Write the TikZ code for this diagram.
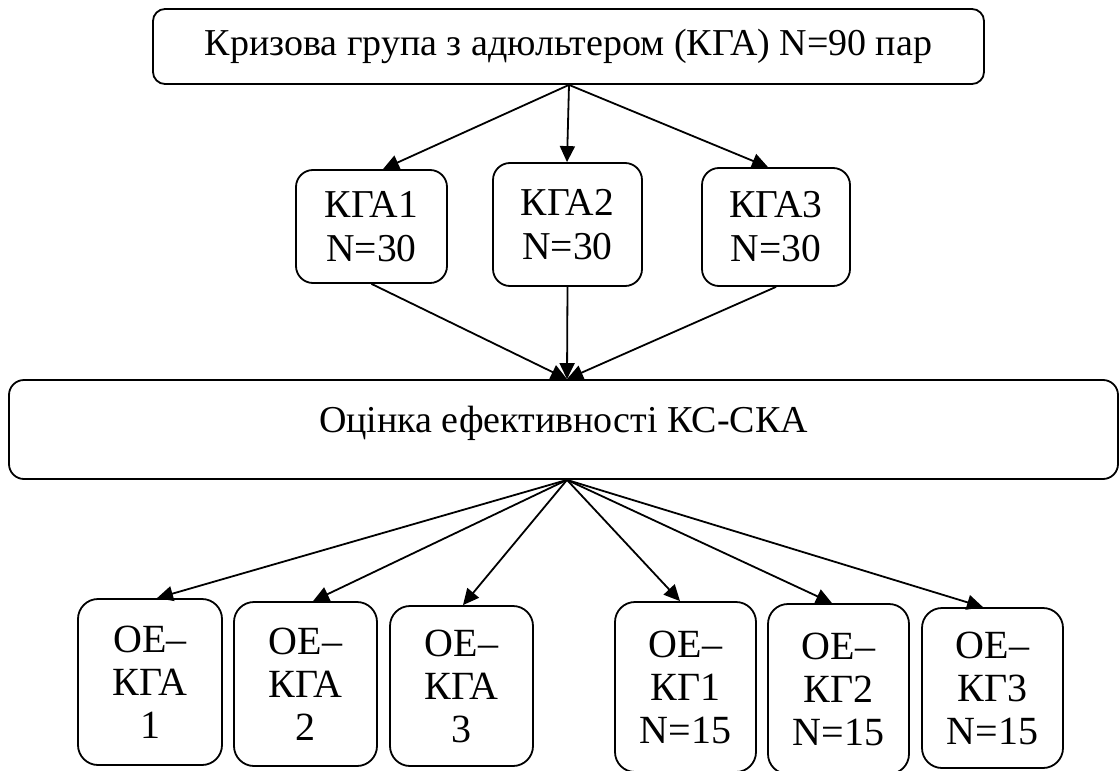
\documentclass[tikz,border=0pt]{standalone}
\usepackage{fontspec}
\setmainfont{Liberation Serif}
\usetikzlibrary{arrows.meta,calc}
\begin{document}
\begin{tikzpicture}[x=1pt,y=-1pt,
  box/.style={draw, line width=1.8pt, align=center, inner sep=0pt},
  midbox/.style={box, rounded corners=17pt, font=\fontsize{39.5}{44}\selectfont},
  lowbox/.style={box, rounded corners=20pt, font=\fontsize{40}{43}\selectfont},
  arr/.style={line width=1.8pt, -{Triangle[length=16pt,width=15pt]}}]
\useasboundingbox (0,0) rectangle (1120,771);
% top
\node[box, rounded corners=12pt, minimum width=831pt, minimum height=75pt,
      font=\fontsize{38}{44}\selectfont] (top) at (568.5,46.5)
      {Кризова група з адюльтером (КГА) N=90 пар};
% middle row
\node[midbox, minimum width=151pt, minimum height=113pt] (k1) at (371.5,226.5) {КГА1\\N=30};
\node[midbox, minimum width=149pt, minimum height=123pt] (k2) at (567.5,224.5) {КГА2\\N=30};
\node[midbox, minimum width=148pt, minimum height=118pt] (k3) at (776,227) {КГА3\\N=30};
% big box
\node[box, rounded corners=15pt, minimum width=1109pt, minimum height=99pt,
      font=\fontsize{38}{44}\selectfont, text height=26pt, text depth=21pt] (big) at (563.5,429.5)
      {Оцінка ефективності КС-СКА};
% bottom row
\node[lowbox, minimum width=144pt, minimum height=166pt] (e1) at (150,682) {ОЕ–\\КГА\\1};
\node[lowbox, minimum width=143pt, minimum height=164pt] (e2) at (305.5,684) {ОЕ–\\КГА\\2};
\node[lowbox, minimum width=143pt, minimum height=160pt] (e3) at (461.5,686) {ОЕ–\\КГА\\3};
\node[lowbox, minimum width=141pt, minimum height=170pt] (g1) at (685.5,687) {ОЕ–\\КГ1\\N=15};
\node[lowbox, minimum width=141pt, minimum height=170pt] (g2) at (838.5,689) {ОЕ–\\КГ2\\N=15};
\node[lowbox, minimum width=141pt, minimum height=160pt] (g3) at (992.5,688) {ОЕ–\\КГ3\\N=15};
% connectors top -> middle
\coordinate (ts) at ([xshift=0.5pt]top.south);
\draw[arr] (ts) -- ([xshift=11.5pt]k1.north);
\draw[arr] (ts) -- ([xshift=-0.5pt]k2.north);
\draw[arr] (ts) -- ([xshift=-8pt]k3.north);
% middle -> big
\coordinate (bn) at ([xshift=3.5pt]big.north);
\draw[arr] (k1.south) -- (bn);
\draw[arr] (k2.south) -- (bn);
\draw[arr] (k3.south) -- (bn);
% big -> bottom
\coordinate (bs) at ([xshift=3.5pt]big.south);
\draw[arr] (bs) -- ([xshift=7pt]e1.north);
\draw[arr] (bs) -- ([xshift=7.5pt]e2.north);
\draw[arr] (bs) -- ([xshift=1.5pt]e3.north);
\draw[arr] (bs) -- ([xshift=-5.5pt]g1.north);
\draw[arr] (bs) -- ([xshift=-6.5pt]g2.north);
\draw[arr] (bs) -- ([xshift=-9.5pt]g3.north);
\end{tikzpicture}
\end{document}
